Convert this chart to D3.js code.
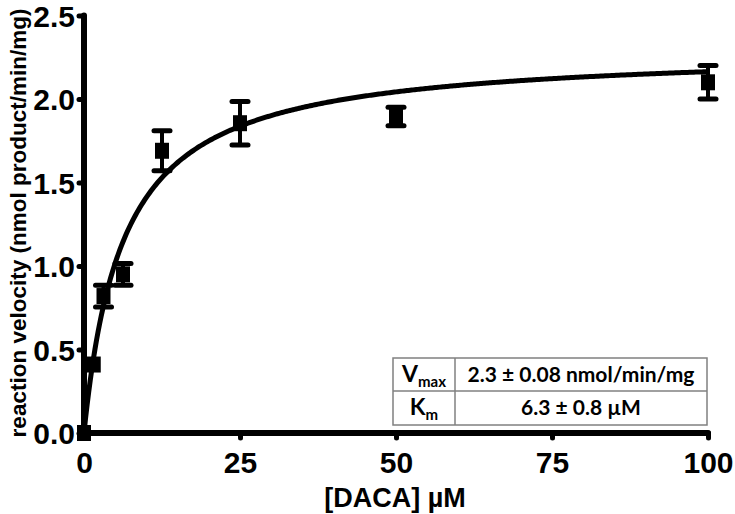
<!DOCTYPE html>
<html><head><meta charset="utf-8">
<script src="https://cdn.jsdelivr.net/npm/d3@7"></script>
<style>body{margin:0;background:#fff}svg{display:block}</style>
</head><body>
<svg id="c" width="735" height="514"></svg>
<script>
// Data
const concentrations = [0, 1.5625, 3.125, 6.25, 12.5, 25, 50, 100];
const velocities     = [0, 0.41, 0.82, 0.95, 1.69, 1.855, 1.895, 2.10];
const errors         = [0, 0, 0.065, 0.065, 0.12, 0.13, 0.055, 0.10];
const xTicks = [0, 25, 50, 75, 100];
const yTicks = [0, 0.5, 1.0, 1.5, 2.0, 2.5];
const Vmax = 2.3, Km = 6.3;
const tableRows = [["V","max","2.3 \u00b1 0.08 nmol/min/mg"],["K","m","6.3 \u00b1 0.8 \u00b5M"]];

const svg = d3.select("#c");
const x = d3.scaleLinear().domain([0,100]).range([84,708]);
const y = d3.scaleLinear().domain([0,2.5]).range([433,15.5]);
const axisFont = "'Liberation Sans', Arial, sans-serif";

// fitted curve (Michaelis-Menten with stated parameters)
const curveX = d3.range(0, 100.01, 0.25);
svg.append("path")
  .datum(curveX)
  .attr("fill","none").attr("stroke","#000").attr("stroke-width",5)
  .attr("d", d3.line().x(d=>x(d)).y(d=>y(Vmax*d/(Km+d))));

// Axes
const xAxis = svg.append("g").attr("transform","translate(0,433)")
  .call(d3.axisBottom(x).tickValues(xTicks).tickSize(5).tickPadding(14).tickFormat(d3.format("d")));
const yAxis = svg.append("g").attr("transform","translate(84,0)")
  .call(d3.axisLeft(y).tickValues(yTicks).tickSize(5).tickPadding(4).tickFormat(d3.format(".1f")));
[xAxis,yAxis].forEach(g=>{
  g.select(".domain").attr("stroke","#000").attr("stroke-width",6).attr("stroke-linecap","round");
  g.selectAll(".tick line").attr("stroke","#000").attr("stroke-width",5).attr("stroke-linecap","round");
  g.selectAll(".tick text").attr("fill","#000").style("font-family",axisFont).style("font-weight","bold").style("font-size","30px");
});
xAxis.select(".domain").attr("d","M84,0H708");
yAxis.select(".domain").attr("d","M0,15.5V433");
yAxis.selectAll(".tick text").attr("dy","0.36em");

// Error bars
const pts = concentrations.map((c,i)=>({c, v:velocities[i], e:errors[i]}));
const eb = svg.append("g").selectAll("g").data(pts.filter(d=>d.e>0)).join("g");
eb.append("line").attr("x1",d=>x(d.c)).attr("x2",d=>x(d.c))
  .attr("y1",d=>y(d.v+d.e)).attr("y2",d=>y(d.v-d.e)).attr("stroke","#000").attr("stroke-width",4);
eb.selectAll(".cap").data(d=>[[d.c,d.v+d.e],[d.c,d.v-d.e]]).join("line")
  .attr("x1",d=>x(d[0])-8).attr("x2",d=>x(d[0])+8)
  .attr("y1",d=>y(d[1])).attr("y2",d=>y(d[1]))
  .attr("stroke","#000").attr("stroke-width",5).attr("stroke-linecap","round");

// Markers
svg.append("g").selectAll("rect").data(pts).join("rect")
  .attr("x",d=>x(d.c)-7).attr("y",d=>y(d.v)-8).attr("width",14).attr("height",16).attr("fill","#000");

// Axis titles
svg.append("text").attr("x",395).attr("y",507).attr("text-anchor","middle")
  .style("font-family",axisFont).style("font-weight","bold").style("font-size","27px")
  .text("[DACA] \u00b5M");
svg.append("text").attr("transform","translate(26,223) rotate(-90)").attr("text-anchor","middle")
  .style("font-family",axisFont).style("font-weight","bold").style("font-size","22.5px")
  .text("reaction velocity (nmol product/min/mg)");

// Table
const tb = svg.append("g");
const tx0=393, tx1=455, tx2=707, ty0=358, ty1=391, ty2=425;
tb.append("rect").attr("x",tx0).attr("y",ty0).attr("width",tx2-tx0).attr("height",ty2-ty0)
  .attr("fill","#fff").attr("stroke","#808080").attr("stroke-width",1.5);
tb.append("line").attr("x1",tx0).attr("x2",tx2).attr("y1",ty1).attr("y2",ty1).attr("stroke","#808080").attr("stroke-width",1.5);
tb.append("line").attr("x1",tx1).attr("x2",tx1).attr("y1",ty0).attr("y2",ty2).attr("stroke","#808080").attr("stroke-width",1.5);
const tFont = "Lato, 'Open Sans', sans-serif";
const rowY = [ty0, ty1, ty2];
tableRows.forEach((r,i)=>{
  const cy = (rowY[i]+rowY[i+1])/2;
  const t1 = tb.append("text").attr("x",(tx0+tx1)/2).attr("y",cy+7).attr("text-anchor","middle")
    .style("font-family",tFont).style("font-weight","bold").style("font-size","23px");
  t1.append("tspan").text(r[0]);
  t1.append("tspan").attr("dy",5).style("font-size","15px").text(r[1]);
  tb.append("text").attr("x",(tx1+tx2)/2).attr("y",cy+7).attr("text-anchor","middle")
    .style("font-family",tFont).style("font-weight","bold").style("font-size","21px").text(r[2]);
});
</script>
</body></html>
